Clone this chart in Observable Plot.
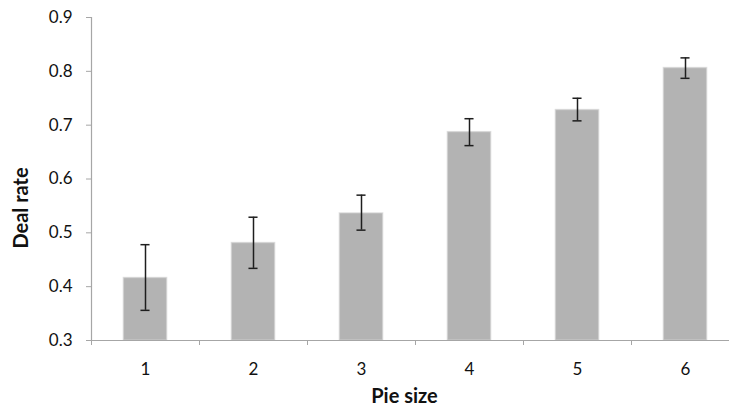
<!DOCTYPE html>
<html>
<head>
<meta charset="utf-8">
<script src="https://cdn.jsdelivr.net/npm/d3@7"></script>
<script src="https://cdn.jsdelivr.net/npm/@observablehq/plot@0.6"></script>
<style>
  html, body { margin: 0; padding: 0; background: #fff; overflow: hidden; }
</style>
</head>
<body>
<div id="chart"></div>
<script>
const pieSizes = [1, 2, 3, 4, 5, 6];
const dealRates = [0.416, 0.481, 0.536, 0.687, 0.728, 0.806];
const errLow = [0.356, 0.434, 0.505, 0.662, 0.708, 0.787];
const errHigh = [0.478, 0.529, 0.570, 0.712, 0.750, 0.825];
const yTicks = [0.3, 0.4, 0.5, 0.6, 0.7, 0.8, 0.9];
const boundaryTicks = [0.5, 1.5, 2.5, 3.5, 4.5, 5.5];
const xTitle = "Pie size";
const yTitle = "Deal rate";

const data = pieSizes.map((p, i) => ({size: p, rate: dealRates[i], lo: errLow[i], hi: errHigh[i]}));
const halfBar = 0.2;
const halfCap = 0.042;

const font = "Lato, 'Open Sans', sans-serif";

const chart = Plot.plot({
  width: 729,
  height: 411,
  marginLeft: 91,
  marginRight: 0,
  marginTop: 17,
  marginBottom: 71,
  style: {fontFamily: font, fontSize: "17px", color: "#111", background: "#fff"},
  x: {type: "linear", domain: [0.5, 6.5], range: [91, 739]},
  y: {domain: [0.3, 0.9], range: [340, 17]},
  marks: [
    Plot.rectY(data, {x1: d => d.size - halfBar, x2: d => d.size + halfBar, y1: 0.3, y2: "rate",
      fill: "#b3b3b3", stroke: "#cfcfcf", strokeWidth: 1.5, strokeOpacity: 0.6}),
    Plot.ruleX(data, {x: "size", y1: "lo", y2: "hi", stroke: "#1e1e1e", strokeWidth: 1.5}),
    Plot.ruleY(data, {y: "hi", x1: d => d.size - halfCap, x2: d => d.size + halfCap, stroke: "#1e1e1e", strokeWidth: 1.5}),
    Plot.ruleY(data, {y: "lo", x1: d => d.size - halfCap, x2: d => d.size + halfCap, stroke: "#1e1e1e", strokeWidth: 1.5}),
    Plot.ruleY([0.3], {stroke: "#a6a6a6", strokeWidth: 1.2}),
    Plot.ruleX([0.5], {y1: 0.3, y2: 0.9, stroke: "#a6a6a6", strokeWidth: 1.2}),
    Plot.axisY({ticks: yTicks, tickFormat: d3.format(".1f"), tickSize: 5, tickPadding: 14,
      stroke: "#a6a6a6", fill: "#111", label: null}),
    Plot.axisX({ticks: boundaryTicks, tickSize: 5, tickFormat: () => "", stroke: "#a6a6a6", label: null}),
    Plot.axisX({ticks: pieSizes, tickFormat: d3.format("d"), tickSize: 0, tickPadding: 22, fill: "#111", label: null}),
    Plot.text([xTitle], {frameAnchor: "bottom", dy: 62, dx: -6, fontWeight: "bold", fontSize: 20, fill: "#111"}),
    Plot.text([yTitle], {frameAnchor: "left", textAnchor: "middle", rotate: -90, dx: -70, dy: 29, fontWeight: "bold", fontSize: 20, fill: "#111"})
  ]
});
document.getElementById("chart").appendChild(chart);
</script>
</body>
</html>
